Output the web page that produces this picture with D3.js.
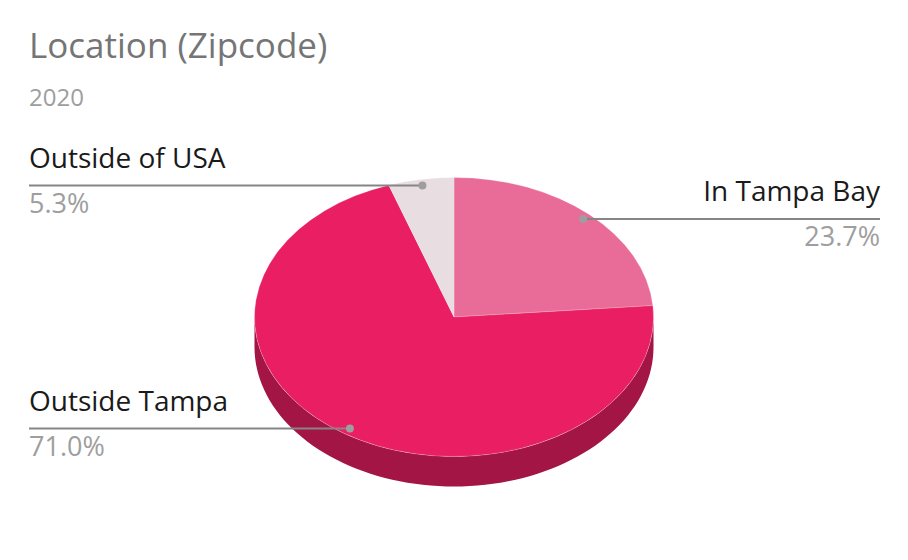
<!DOCTYPE html>
<html><head><meta charset="utf-8">
<script src="https://cdn.jsdelivr.net/npm/d3@7"></script>
<style>body{margin:0;background:#fff}svg{display:block}</style>
</head><body>
<script>
const categories = ["In Tampa Bay", "Outside Tampa", "Outside of USA"];
const values = [23.7, 71.0, 5.3];
const valueLabels = ["23.7%", "71.0%", "5.3%"];
const colors = ["#E96C98", "#E91E63", "#E8DDE1"];
const labelSide = ["right", "left", "left"];
const title = "Location (Zipcode)";
const subtitle = "2020";

const W = 908, H = 560;
const cx = 454, cy = 317, rx = 199.5, ry = 139.5, depth = 30;
const font = "'Open Sans', 'Segoe UI', sans-serif";

const svg = d3.select("body").append("svg").attr("width", W).attr("height", H);

svg.append("text").attr("x", 29).attr("y", 58).text(title)
  .attr("font-family", font).attr("font-size", 35).attr("fill", "#757575");
svg.append("text").attr("x", 29).attr("y", 106).text(subtitle)
  .attr("font-family", font).attr("font-size", 24).attr("fill", "#9E9E9E");

const pie = d3.pie().sort(null).value(d => d)(values);
// scales mapping unit circle to projected ellipse
const sx = d3.scaleLinear().domain([-1, 1]).range([cx - rx, cx + rx]);
const sy = d3.scaleLinear().domain([-1, 1]).range([cy - ry, cy + ry]);
const px = (a, k = 1) => sx(k * Math.sin(a));
const py = (a, k = 1) => sy(-k * Math.cos(a));

// side walls (visible front half: angles PI/2 .. 3PI/2)
const sideG = svg.append("g");
pie.forEach((p, i) => {
  const a0 = Math.max(p.startAngle, Math.PI / 2), a1 = Math.min(p.endAngle, 3 * Math.PI / 2);
  if (a1 <= a0) return;
  const n = 80;
  const top = d3.range(n + 1).map(j => a0 + (a1 - a0) * j / n);
  const pts = top.map(a => [px(a), py(a)]).concat(top.slice().reverse().map(a => [px(a), py(a) + depth]));
  sideG.append("path").attr("d", d3.line()(pts) + "Z")
    .attr("fill", d3.color(colors[i]).darker(1).formatHex());
});

// top face: circular arcs squashed into ellipse
const arc = d3.arc().innerRadius(0).outerRadius(rx);
svg.append("g").attr("transform", `translate(${cx},${cy}) scale(1,${ry / rx})`)
  .selectAll("path").data(pie).join("path")
  .attr("d", arc).attr("fill", (d, i) => colors[i])
  .attr("stroke", "rgba(255,255,255,0.35)").attr("stroke-width", 0.6)
  .attr("vector-effect", "non-scaling-stroke");

// leader lines and labels
const lg = svg.append("g");
pie.forEach((p, i) => {
  const mid = (p.startAngle + p.endAngle) / 2;
  const x = px(mid, 0.955), y = py(mid, 0.955);
  const left = labelSide[i] === "left";
  const xe = left ? 29 : 880;
  lg.append("line").attr("x1", x).attr("y1", y).attr("x2", xe).attr("y2", y)
    .attr("stroke", "#858585").attr("stroke-width", 2);
  lg.append("circle").attr("cx", x).attr("cy", y).attr("r", 4).attr("fill", "#9E9E9E");
  lg.append("text").attr("x", xe).attr("y", y - 18).text(categories[i])
    .attr("text-anchor", left ? "start" : "end")
    .attr("font-family", font).attr("font-size", 28).attr("fill", "#1a1a1a");
  lg.append("text").attr("x", xe).attr("y", y + 27).text(valueLabels[i])
    .attr("text-anchor", left ? "start" : "end")
    .attr("font-family", font).attr("font-size", 27).attr("fill", "#9E9E9E");
});
</script>
</body></html>
